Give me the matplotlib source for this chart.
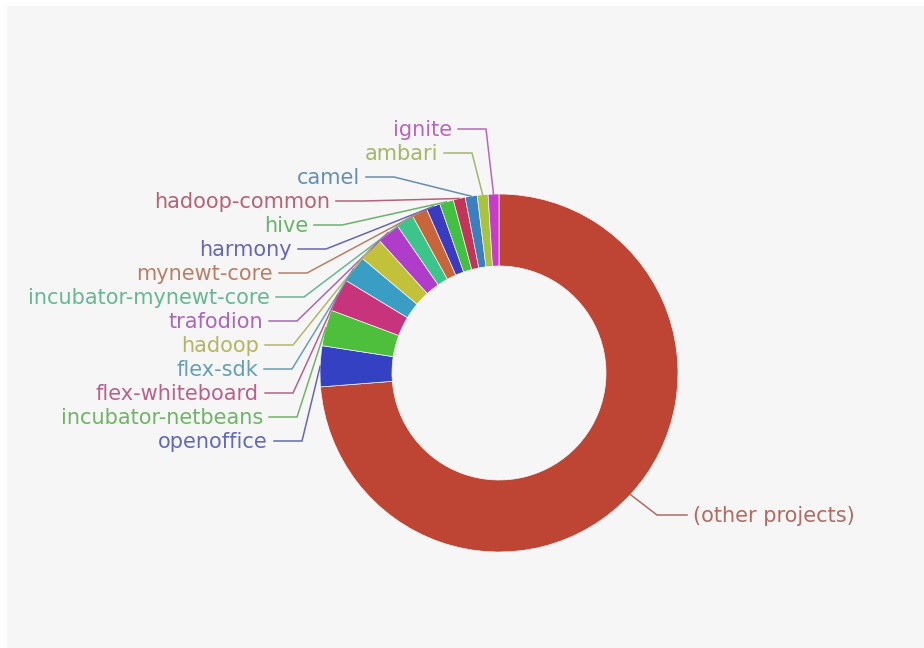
import matplotlib
matplotlib.use("Agg")
import matplotlib.pyplot as plt
import numpy as np
from matplotlib.patches import Rectangle
from matplotlib.colors import to_rgb

# ---------------- data ----------------
projects = ["(other projects)", "openoffice", "incubator-netbeans", "flex-whiteboard",
            "flex-sdk", "hadoop", "trafodion", "incubator-mynewt-core", "mynewt-core",
            "harmony", "hive", "hadoop-common", "camel", "ambari", "ignite"]
shares = [73.6, 3.67, 3.25, 2.95, 2.45, 2.2, 2.07, 1.6, 1.39, 1.25, 1.25, 1.08, 1.08, 0.97, 0.97]
colors = ["#be4434", "#3441c2", "#4dbf3d", "#c8347b", "#3a9dc4", "#c2c23a", "#b03dc9",
          "#3dc48a", "#c8653a", "#3b3bc2", "#42c042", "#c43458", "#3a80c0", "#a8c43c", "#c83cc8"]

# ---------------- layout (pixels) ----------------
W, H = 924, 648
BG = "#f6f6f6"
cx, cy = 499, 373
r_out, r_in = 179, 107
# small slices' labels, listed from ignite (top) down to openoffice
label_line_y0, label_step = 129, 24
label_text_end = [452, 438, 360, 330, 308, 292, 273, 270, 263, 259, 258, 259, 263, 268]
other_label = dict(elbow=(657, 515), text_x=693)

fig = plt.figure(figsize=(W / 100, H / 100), dpi=100)
fig.patch.set_facecolor("white")
ax = fig.add_axes([0, 0, 1, 1])


def py(y):
    return H - y


ax.add_patch(Rectangle((7, 0), W - 7, H - 6, facecolor=BG, edgecolor="none", zorder=0))

wedges, _ = ax.pie(shares, colors=colors, startangle=90, counterclock=False,
                   radius=r_out, center=(cx, py(cy)),
                   wedgeprops=dict(width=r_out - r_in, edgecolor=BG, linewidth=0.5))


def muted(c, a=0.58):
    c = np.array(to_rgb(c))
    g = np.array(to_rgb("#a2a2a2"))
    return tuple(c * a + g * (1 - a))


def anchor(w):
    ang = np.deg2rad((w.theta1 + w.theta2) / 2)
    return cx + r_out * np.cos(ang), py(cy) + r_out * np.sin(ang)


font = dict(family="DejaVu Sans", size=15)

# small slices: labels on the left
small = list(range(1, len(projects)))[::-1]  # ignite ... openoffice
for k, idx in enumerate(small):
    ly = label_line_y0 + k * label_step
    tx = label_text_end[k]
    col = muted(colors[idx])
    ax_, ay_ = anchor(wedges[idx])
    xs = [tx + 6, tx + 34, ax_]
    ys = [py(ly), py(ly), ay_]
    ax.plot(xs, ys, color=col, lw=1.1, solid_joinstyle="miter", zorder=3)
    ax.text(tx, py(ly + 1), projects[idx], ha="right", va="center", color=col, **font)

# big slice label on the right
col = muted(colors[0])
ax_, ay_ = anchor(wedges[0])
ex, ey = other_label["elbow"]
tx0 = other_label["text_x"]
ax.plot([ax_, ex, tx0 - 6], [ay_, py(ey), py(ey)], color=col, lw=1.1, zorder=3)
ax.text(tx0, py(ey + 1), projects[0], ha="left", va="center", color=col, **font)

ax.set_xlim(0, W)
ax.set_ylim(0, H)
ax.set_aspect("equal")
ax.axis("off")

fig.savefig("out.png", dpi=100, facecolor="white")
